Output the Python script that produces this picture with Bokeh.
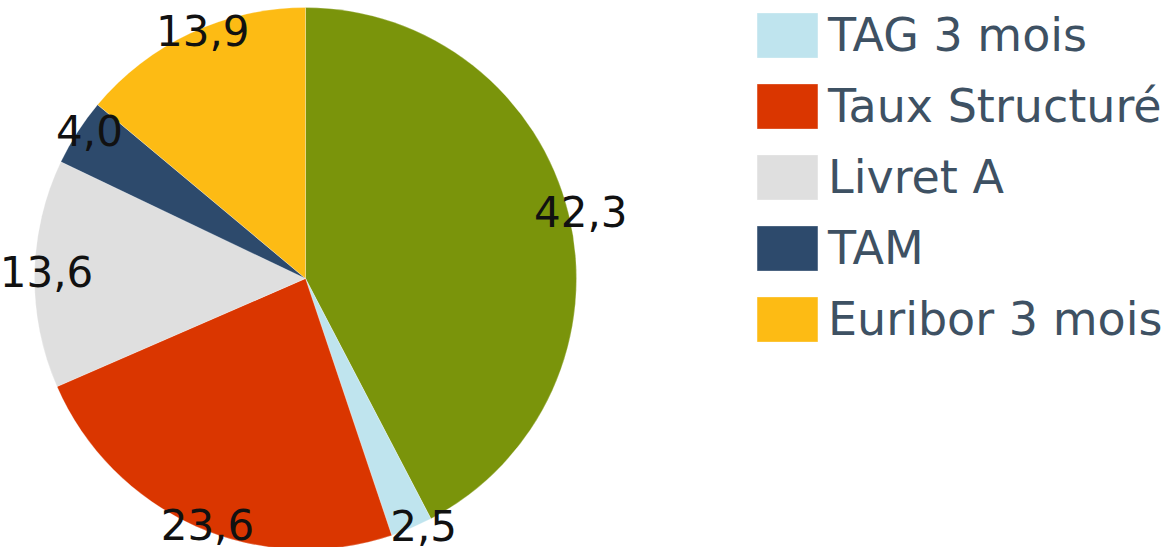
import math
from bokeh.plotting import figure
from bokeh.models import ColumnDataSource, Range1d, Legend, LegendItem
from bokeh.core.properties import value
from bokeh.embed import file_html
from bokeh.resources import INLINE

# ---- data ----
categories = ["Taux fixe", "TAG 3 mois", "Taux Structuré", "Livret A", "TAM", "Euribor 3 mois"]
values = [42.3, 2.5, 23.6, 13.6, 4.0, 13.9]
labels = ["42,3", "2,5", "23,6", "13,6", "4,0", "13,9"]
colors = ["#7a940b", "#bfe4ee", "#da3600", "#dfdfdf", "#2d4a6c", "#fdbb14"]
in_legend = [False, True, True, True, True, True]

W, H = 1165, 547
cx, cy = 305, H - 278
R = 271

p = figure(width=W, height=H, output_backend="svg", toolbar_location=None,
           x_range=Range1d(0, W), y_range=Range1d(0, H),
           min_border=0, min_border_left=0, min_border_right=0,
           min_border_top=0, min_border_bottom=0)
p.axis.visible = False
p.grid.visible = False
p.outline_line_color = None
p.background_fill_color = "white"
p.border_fill_color = "white"

total = sum(values)
starts, ends, mids = [], [], []
cum = 0.0
for v in values:
    a0 = math.pi / 2 - 2 * math.pi * cum / total
    cum += v
    a1 = math.pi / 2 - 2 * math.pi * cum / total
    starts.append(a0)
    ends.append(a1)
    mids.append((a0 + a1) / 2)

items = []
for i, cat in enumerate(categories):
    r = p.wedge(x=cx, y=cy, radius=R, start_angle=starts[i], end_angle=ends[i],
                direction="clock", fill_color=colors[i], line_color="white",
                line_width=0.5, line_alpha=0.5)
    if in_legend[i]:
        items.append(LegendItem(label=cat, renderers=[r]))

lx = [cx + R * math.cos(m) for m in mids]
ly = [cy + R * math.sin(m) for m in mids]
src = ColumnDataSource(dict(x=lx, y=ly, t=labels))
p.text(x="x", y="y", text="t", source=src, text_align="center", text_baseline="middle",
       x_offset=12, y_offset=-2, text_font=value("DejaVu Sans"),
       text_font_size="42px", text_color="#111111")

legend = Legend(items=items, location=(749, H - 347), padding=0, margin=0,
                border_line_color=None, background_fill_alpha=0,
                glyph_width=76, glyph_height=56, label_standoff=3, spacing=15,
                label_height=44, label_text_font="DejaVu Sans",
                label_text_font_size="46px", label_text_color="#3e5163")
p.add_layout(legend)

open("out.html", "w").write(file_html(p, INLINE))
